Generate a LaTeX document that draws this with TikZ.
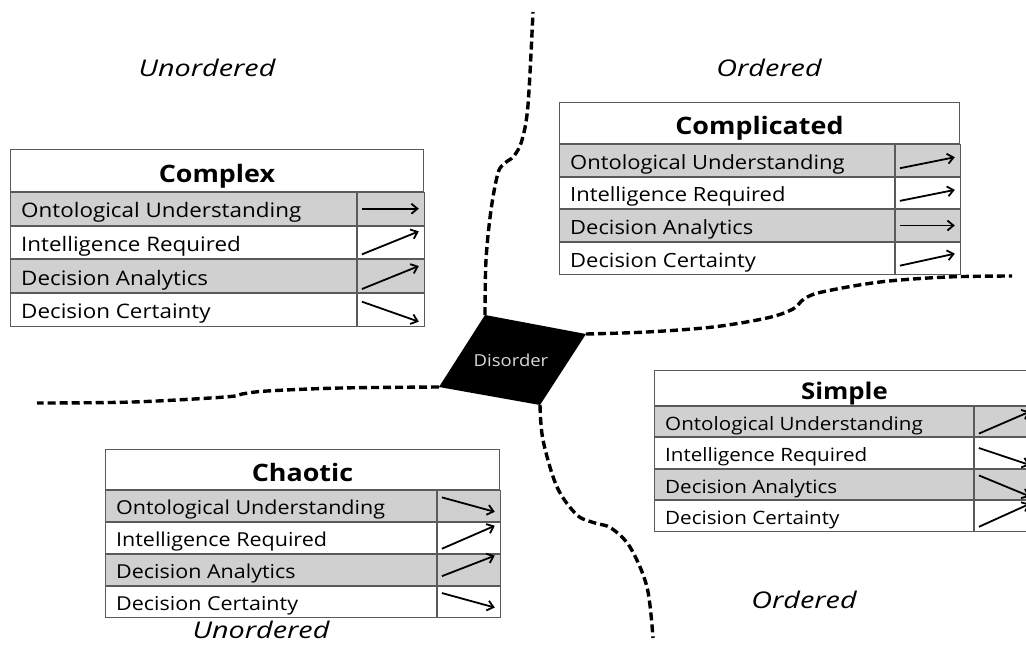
\documentclass[tikz,border=0pt]{standalone}
\usepackage{fontspec}
\setmainfont[FakeStretch=1.12]{Open Sans}
\newfontfamily\lblfont[FakeStretch=1.25]{Open Sans}
\usetikzlibrary{arrows.meta,calc}
\definecolor{rowgray}{HTML}{D0D0D0}
\definecolor{framegray}{HTML}{5A5A5A}
\definecolor{disgray}{HTML}{D8D8D8}
\tikzset{
  div/.style={line width=3.4pt, dash pattern=on 8pt off 4pt},
  tcell/.style={draw=framegray, line width=0.9pt, fill=white, anchor=north west, inner sep=0pt},
  gcell/.style={tcell, fill=rowgray},
  arr/.style={line width=1.8pt, -{Straight Barb[length=6pt,width=10pt]}},
  ital/.style={font=\lblfont\itshape\fontsize{23}{23}\selectfont, inner sep=0pt},
  celltext/.style={anchor=base west, inner sep=0pt}
}
\newcommand{\rowfs}{20}
% #1 name, #2 left, #3 top, #4 divider, #5 right, #6 title h, #7 row h, #8 title, #9 title size
\newcommand{\cyntab}[9]{%
  \pgfmathsetmacro{\tw}{#5-#2}%
  \pgfmathsetmacro{\lw}{#4-#2}%
  \pgfmathsetmacro{\aw}{#5-#4}%
  \pgfmathsetmacro{\rbs}{0.36*\rowfs+2}%
  \pgfmathsetmacro{\tbs}{0.36*#9+3}%
  \node[tcell, minimum width=\tw pt, minimum height=#6 pt] (#1-t) at (#2,#3) {};
  \node[celltext, anchor=base, font=\bfseries\fontsize{#9}{#9}\selectfont] (#1-tt) at ($(#1-t.center)+(0,\tbs)$) {#8};
  \node[gcell, minimum width=\lw pt, minimum height=#7 pt] (#1-l1) at (#1-t.south west) {};
  \node[gcell, minimum width=\aw pt, minimum height=#7 pt] (#1-a1) at (#1-l1.north east) {};
  \node[tcell, minimum width=\lw pt, minimum height=#7 pt] (#1-l2) at (#1-l1.south west) {};
  \node[tcell, minimum width=\aw pt, minimum height=#7 pt] (#1-a2) at (#1-l2.north east) {};
  \node[gcell, minimum width=\lw pt, minimum height=#7 pt] (#1-l3) at (#1-l2.south west) {};
  \node[gcell, minimum width=\aw pt, minimum height=#7 pt] (#1-a3) at (#1-l3.north east) {};
  \node[tcell, minimum width=\lw pt, minimum height=#7 pt] (#1-l4) at (#1-l3.south west) {};
  \node[tcell, minimum width=\aw pt, minimum height=#7 pt] (#1-a4) at (#1-l4.north east) {};
  \node[celltext, font=\fontsize{\rowfs}{\rowfs}\selectfont] (#1-x1) at ($(#1-l1.west)+(11,\rbs)$) {Ontological Understanding};
  \node[celltext, font=\fontsize{\rowfs}{\rowfs}\selectfont] (#1-x2) at ($(#1-l2.west)+(11,\rbs)$) {Intelligence Required};
  \node[celltext, font=\fontsize{\rowfs}{\rowfs}\selectfont] (#1-x3) at ($(#1-l3.west)+(11,\rbs)$) {Decision Analytics};
  \node[celltext, font=\fontsize{\rowfs}{\rowfs}\selectfont] (#1-x4) at ($(#1-l4.west)+(11,\rbs)$) {Decision Certainty};
}
\newcommand{\carr}[3]{\draw[arr] ($(#1.west)+(5,#2)$) -- ($(#1.east)+(-6,#3)$);}
\begin{document}
\begin{tikzpicture}[x=1pt,y=-1pt]
\useasboundingbox (0,0) rectangle (1026,646);
\clip (0,0) rectangle (1026,646);
\fill[white] (0,0) rectangle (1026,646);

% disorder
\coordinate (dN) at (485,315);
\coordinate (dE) at (586,334);
\coordinate (dS) at (540,405);
\coordinate (dW) at (439,387);
\fill[black] (dN) -- (dE) -- (dS) -- (dW) -- cycle;
\node[text=disgray, font=\fontsize{16.5}{16.5}\selectfont] (dis) at (511,360) {Disorder};

% dividing lines
\coordinate (eT) at (533,12);
\coordinate (eR) at (1012,276);
\coordinate (eL) at (37,403);
\coordinate (eB) at (653,638);
\draw[div] plot[smooth, tension=0.55] coordinates {(dN) (486,260) (491,210) (498,173) (505,163) (514,156) (522,140) (528,105) (eT)};
\draw[div] plot[smooth, tension=0.55] coordinates {(dE) (647,332) (713,327) (767,318) (793,309) (804,299) (822,292) (880,282) (947,277) (eR)};
\draw[div] plot[smooth, tension=0.55] coordinates {(dW) (340,388) (267,391) (242,394) (225,397) (133,402) (eL)};
\draw[div] plot[smooth, tension=0.55] coordinates {(dS) (543,440) (557,487) (577,515) (595,523) (611,528) (630,547) (647,587) (eB)};

% tables
\renewcommand{\rowfs}{20}
\cyntab{cmx}{10}{149}{356}{423}{42}{32.75}{Complex}{24}
\carr{cmx-a1}{0}{0}
\carr{cmx-a2}{12}{-11}
\carr{cmx-a3}{13}{-10}
\carr{cmx-a4}{-8}{12}

\renewcommand{\rowfs}{19.6}
\cyntab{cpd}{559}{102}{894}{959}{41}{31.75}{Complicated}{24}
\carr{cpd-a1}{8}{-3}
\carr{cpd-a2}{8}{-3}
\carr{cpd-a3}{0}{0}
\carr{cpd-a4}{7.5}{-4.5}

\renewcommand{\rowfs}{18.4}
\cyntab{smp}{654}{370}{973}{1034}{35}{30.5}{Simple}{23}
\carr{smp-a1}{12}{-10}
\carr{smp-a2}{-5}{12}
\carr{smp-a3}{-9}{12}
\carr{smp-a4}{11}{-12}

\renewcommand{\rowfs}{19.2}
\cyntab{cht}{105}{449}{436}{499}{40}{31}{Chaotic}{24}
\carr{cht-a1}{-8.5}{6}
\carr{cht-a2}{11}{-12}
\carr{cht-a3}{6.5}{-14}
\carr{cht-a4}{-8.5}{6}

% region labels
\node[ital] (uo1) at (207,68) {Unordered};
\node[ital] (or1) at (769,68) {Ordered};
\node[ital] (or2) at (804,600) {Ordered};
\node[ital] (uo2) at (261,630) {Unordered};
\end{tikzpicture}
\end{document}
